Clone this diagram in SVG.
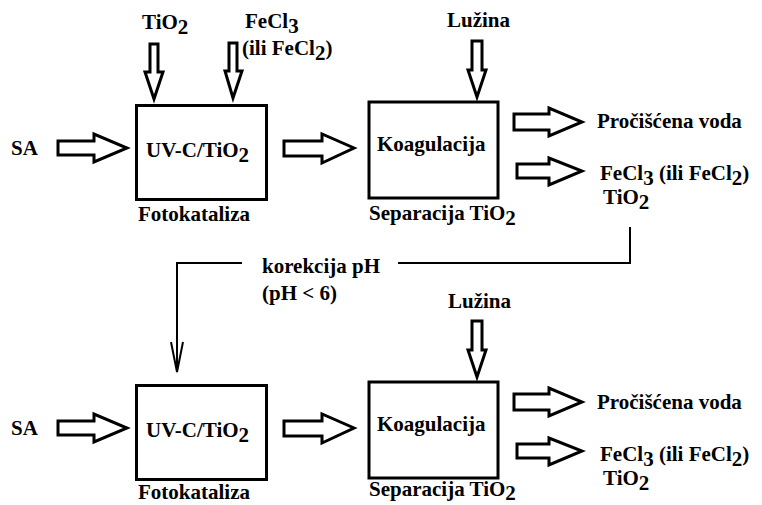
<svg xmlns="http://www.w3.org/2000/svg" width="762" height="505" viewBox="0 0 762 505">
<style>
text{font-family:"Liberation Serif","Times New Roman",serif;font-weight:bold;font-size:21px;fill:#000}
.box{fill:#fff;stroke:#000;stroke-width:3}
.ba{fill:#fff;stroke:#000;stroke-width:3;stroke-linejoin:miter}
.ln{fill:none;stroke:#000;stroke-width:2}
</style>
<defs>
<polygon id="arrR1" class="ba" points="58,141 94,141 94,134 127,148 94,162 94,155 58,155"/>
<polygon id="arrR2" class="ba" points="284,141 322,141 322,134 354,148 322,163 322,156 284,156"/>
<polygon id="arrD1" class="ba" points="150,44 158,44 158,72 163,72 154,99 145,72 150,72"/>
<polygon id="arrD2" class="ba" points="229,43 237,43 237,71 242,71 233,98 225,71 229,71"/>
<polygon id="arrD3" class="ba" points="472,41 482,41 482,70 486,70 477,97 468,70 472,70"/>
<polygon id="arrO1" class="ba" points="514,114 549,114 549,108 582,122 549,136 549,130 514,130"/>
<polygon id="arrO2" class="ba" points="517,164 549,164 549,158 582,171 549,185 549,178 517,178"/>
</defs>

<!-- Top stage -->
<g id="sa1"><text x="11" y="155">SA</text></g>
<g id="tio2_in1"><text x="142" y="29">TiO<tspan dy="5">2</tspan></text></g>
<g id="fecl_in1"><text x="245" y="28">FeCl<tspan dy="5">3</tspan></text><text x="242" y="55">(ili FeCl<tspan dy="5">2</tspan><tspan dy="-5">)</tspan></text></g>
<g id="foto1">
<rect class="box" x="136.5" y="105.5" width="130" height="94"/>
<text x="146" y="157">UV-C/TiO<tspan dy="5">2</tspan></text>
<text x="138" y="221">Fotokataliza</text>
</g>
<g id="koag1">
<rect class="box" x="369" y="102" width="129" height="96"/>
<text x="377" y="151">Koagulacija</text>
<text x="369" y="220">Separacija TiO<tspan dy="5">2</tspan></text>
</g>
<g id="luz1"><text x="447" y="27">Lužina</text></g>
<g id="voda1"><text x="597" y="128">Pročišćena voda</text></g>
<g id="rec1"><text x="600" y="180">FeCl<tspan dy="5">3</tspan><tspan dy="-5"> (ili FeCl</tspan><tspan dy="5">2</tspan><tspan dy="-5">)</tspan></text><text x="603" y="204">TiO<tspan dy="5">2</tspan></text></g>

<!-- Bottom stage -->
<g transform="translate(0,280)">
<g id="sa2"><text x="11" y="155">SA</text></g>
<g id="foto2">
<rect class="box" x="136.5" y="105.5" width="130" height="94"/>
<text x="146" y="157">UV-C/TiO<tspan dy="5">2</tspan></text>
<text x="138" y="219">Fotokataliza</text>
</g>
<g id="koag2">
<rect class="box" x="369" y="102" width="129" height="96"/>
<text x="377" y="151">Koagulacija</text>
<text x="369" y="216">Separacija TiO<tspan dy="4">2</tspan></text>
</g>
<g id="luz2"><text x="448" y="28">Lužina</text></g>
<g id="voda2"><text x="597" y="129">Pročišćena voda</text></g>
<g id="rec2"><text x="600" y="181">FeCl<tspan dy="5">3</tspan><tspan dy="-5"> (ili FeCl</tspan><tspan dy="5">2</tspan><tspan dy="-5">)</tspan></text><text x="603" y="205">TiO<tspan dy="5">2</tspan></text></g>
</g>

<g id="korekcija"><text x="262" y="273">korekcija pH</text><text x="262" y="300">(pH &lt; 6)</text></g>

<!-- Connectors -->
<g id="connectors">
<use href="#arrR1"/><use href="#arrR2"/><use href="#arrD1"/><use href="#arrD2"/><use href="#arrD3"/><use href="#arrO1"/><use href="#arrO2"/>
<g transform="translate(0,280)">
<use href="#arrR1"/><use href="#arrR2"/><use href="#arrD3"/><use href="#arrO1"/><use href="#arrO2"/>
</g>
<path class="ln" d="M630,227 V263 H398"/>
<path class="ln" d="M242,263 H177 V372"/>
<path class="ln" d="M171,342 L177,372 L183,342"/>
</g>
</svg>
